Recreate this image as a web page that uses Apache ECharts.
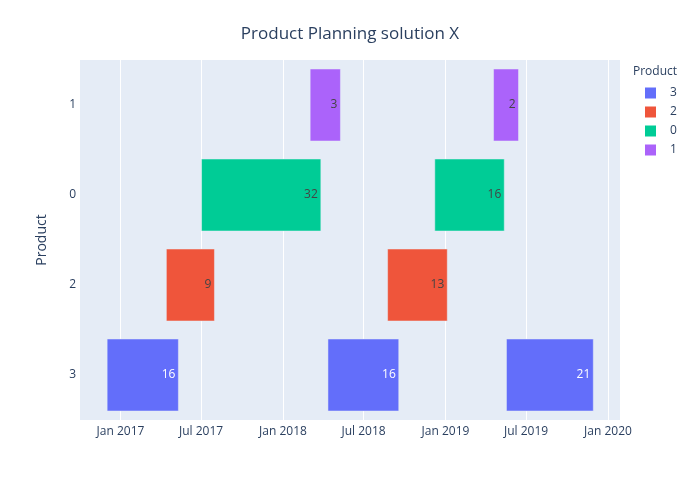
<!DOCTYPE html>
<html>
<head>
<meta charset="utf-8">
<script src="https://cdn.jsdelivr.net/npm/echarts@6/dist/echarts.min.js"></script>
<style>html,body{margin:0;padding:0;background:#fff}#c{width:700px;height:500px}</style>
</head>
<body>
<div id="c"></div>
<script>
// Categories on the y axis, bottom to top
var categories = ['3', '2', '0', '1'];
// Legend / series order
var products = ['3', '2', '0', '1'];
var colors = ['#636efa', '#EF553B', '#00cc96', '#ab63fa'];
var labelColors = ['#ffffff', '#444444', '#444444', '#444444'];
// X axis ticks
var tickDates = ['2017-01-01', '2017-07-01', '2018-01-01', '2018-07-01', '2019-01-01', '2019-07-01', '2020-01-01'];
var tickLabels = ['Jan 2017', 'Jul 2017', 'Jan 2018', 'Jul 2018', 'Jan 2019', 'Jul 2019', 'Jan 2020'];
// Tasks per product: start, finish, label
var starts3 = ['2016-12-02', '2018-04-12', '2019-05-18'];
var ends3   = ['2017-05-11', '2018-09-18', '2019-11-29'];
var labels3 = ['16', '16', '21'];
var starts2 = ['2017-04-14', '2018-08-24'];
var ends2   = ['2017-07-31', '2019-01-05'];
var labels2 = ['9', '13'];
var starts0 = ['2017-07-02', '2018-12-08'];
var ends0   = ['2018-03-27', '2019-05-13'];
var labels0 = ['32', '16'];
var starts1 = ['2018-03-03', '2019-04-19'];
var ends1   = ['2018-05-10', '2019-06-14'];
var labels1 = ['3', '2'];

var taskSets = {
  '3': [starts3, ends3, labels3],
  '2': [starts2, ends2, labels2],
  '0': [starts0, ends0, labels0],
  '1': [starts1, ends1, labels1]
};

var FONT = '"Open Sans", "Noto Sans", sans-serif';
function t(s) { return Date.parse(s + 'T00:00:00Z'); }
var tickValues = tickDates.map(t);

function makeSeries(p, idx) {
  var set = taskSets[p];
  var data = set[0].map(function (s, i) {
    return [categories.indexOf(p), t(s), t(set[1][i]), set[2][i]];
  });
  return {
    name: p,
    type: 'custom',
    itemStyle: { color: colors[idx] },
    encode: { x: [1, 2], y: 0 },
    data: data,
    renderItem: function (params, api) {
      var c = api.value(0);
      var a = api.coord([api.value(1), c]);
      var b = api.coord([api.value(2), c]);
      var h = api.size([0, 1])[1] * 0.8;
      var label = data[params.dataIndex][3];
      return {
        type: 'group',
        children: [{
          type: 'rect',
          shape: { x: a[0], y: a[1] - h / 2, width: b[0] - a[0], height: h },
          style: { fill: colors[idx], stroke: '#E5ECF6', lineWidth: 0.5 }
        }, {
          type: 'text',
          style: {
            x: b[0] - 3, y: a[1], text: label, align: 'right', verticalAlign: 'middle',
            fill: labelColors[idx], font: '12px ' + FONT
          }
        }]
      };
    }
  };
}

var chart = echarts.init(document.getElementById('c'));
chart.setOption({
  backgroundColor: '#ffffff',
  animation: false,
  title: {
    text: 'Product Planning solution X', left: 'center', top: 21,
    textStyle: { fontFamily: FONT, fontSize: 17, fontWeight: 'normal', color: '#2a3f5f' }
  },
  legend: {
    orient: 'vertical', left: 640, top: 82, icon: 'rect',
    itemWidth: 11, itemHeight: 11, itemGap: 7,
    data: products,
    textStyle: { fontFamily: FONT, fontSize: 12, color: '#2a3f5f', padding: [0, 0, 0, 9] }
  },
  graphic: [{
    type: 'text', left: 633, top: 66,
    style: { text: 'Product', font: '12px ' + FONT, fill: '#2a3f5f' }
  }],
  grid: { left: 80, right: 80, top: 60, bottom: 80, backgroundColor: '#E5ECF6', show: true, borderWidth: 0 },
  xAxis: {
    type: 'value',
    min: t('2016-10-02'),
    max: t('2020-01-28'),
    axisLine: { show: false },
    axisTick: { show: false, customValues: tickValues },
    splitLine: { show: true, lineStyle: { color: '#ffffff', width: 1 } },
    axisLabel: {
      customValues: tickValues,
      formatter: function (v) {
        var i = tickValues.indexOf(v);
        return i >= 0 ? tickLabels[i] : '';
      },
      color: '#2a3f5f', fontFamily: FONT, fontSize: 12, margin: 6
    }
  },
  yAxis: {
    type: 'category',
    data: categories,
    name: 'Product', nameLocation: 'middle', nameRotate: 90, nameGap: 31,
    nameTextStyle: { fontFamily: FONT, fontSize: 14, color: '#2a3f5f' },
    axisLine: { show: false },
    axisTick: { show: false },
    splitLine: { show: false },
    axisLabel: { color: '#2a3f5f', fontFamily: FONT, fontSize: 12, margin: 4 }
  },
  series: products.map(makeSeries)
});
</script>
</body>
</html>
